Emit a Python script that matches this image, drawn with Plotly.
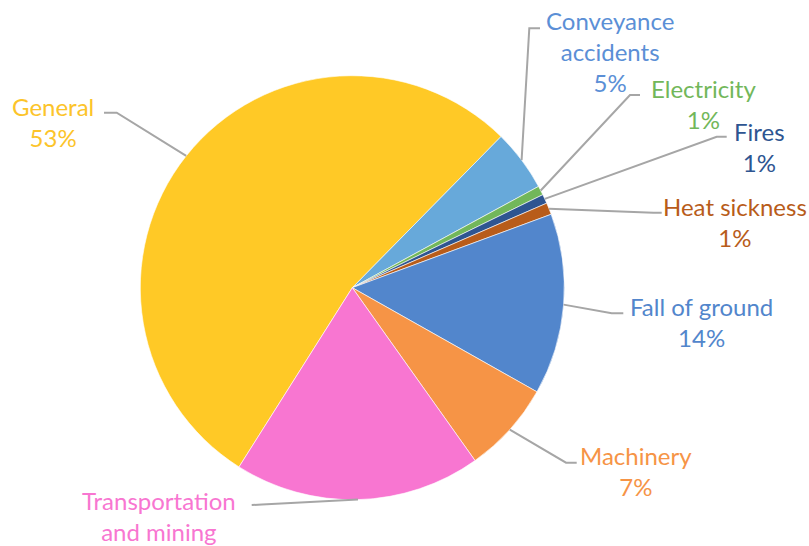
import math
import plotly.graph_objects as go

# ---- data ----
categories = ["General", "Conveyance accidents", "Electricity", "Fires",
              "Heat sickness", "Fall of ground", "Machinery", "Transportation and mining"]
label_lines = [["General"], ["Conveyance", "accidents"], ["Electricity"], ["Fires"],
               ["Heat sickness"], ["Fall of ground"], ["Machinery"], ["Transportation", "and mining"]]
values = [53.4, 4.7, 0.7, 0.7, 0.9, 13.8, 7.0, 18.8]
show_pct = [True, True, True, True, True, True, True, False]

# ---- style / layout ----
W, H = 809, 546
slice_colors = ["#FFC926", "#67A9DA", "#72B75A", "#2E5591", "#B85C1A", "#5286CC", "#F69446", "#F876D1"]
text_colors = ["#FCC42A", "#5B8FD6", "#72B75A", "#2E5591", "#B85C1A", "#5286CC", "#F69446", "#F876D1"]
rotation = 212.3
cx, cy, R = 352.3, 287.7, 212.0
# label centre (px) and leader elbow / end (px)
label_pos = [(53, 122.5), (609.5, 51), (703, 103.8), (759.5, 146.7),
             (735, 221.7), (701.5, 321.7), (636.3, 470.8), (159, 515.8)]
leader_elbow = [(116.7, 112.7), (529.3, 28.3), (630, 95), (716.7, 136.7),
                (653.3, 212.7), (611.7, 313.3), (566, 462.7), (262, 504.5)]
leader_end = [(104, 112.7), (540, 28.3), (640, 95), (726.7, 136.7),
              (661.7, 212.7), (623.3, 313.3), (576.7, 462.7), (251.7, 505)]
FONT = "Lato"
FS = 24

def px(x):
    return x / W

def py(y):
    return 1 - y / H

total = sum(values)
fig = go.Figure(go.Pie(
    labels=categories, values=values, sort=False, direction="clockwise",
    rotation=rotation, textinfo="none", hoverinfo="label+percent",
    marker=dict(colors=slice_colors, line=dict(color="white", width=0.6)),
    domain=dict(x=[px(cx - R), px(cx + R)], y=[py(cy + R), py(cy - R)]),
    showlegend=False,
))

# leader lines and labels, anchored at slice mid-angles derived from the data
angle = rotation
shapes, annotations = [], []
for i, v in enumerate(values):
    span = 360 * v / total
    mid = math.radians(angle + span / 2)
    angle += span
    ex, ey = cx + R * math.sin(mid), cy - R * math.cos(mid)
    (bx, by), (tx, ty) = leader_elbow[i], leader_end[i]
    shapes.append(dict(type="path", xref="paper", yref="paper",
                       path=f"M {px(ex)} {py(ey)} L {px(bx)} {py(by)} L {px(tx)} {py(ty)}",
                       line=dict(color="#A6A6A6", width=2)))
    lines = list(label_lines[i])
    if show_pct[i]:
        lines.append(f"{round(100 * v / total)}%")
    lx, ly = label_pos[i]
    annotations.append(dict(x=px(lx), y=py(ly), xref="paper", yref="paper",
                            text="<br>".join(lines), showarrow=False,
                            xanchor="center", yanchor="middle", align="center",
                            font=dict(family=FONT, size=FS, color=text_colors[i])))

fig.update_layout(width=W, height=H, margin=dict(l=0, r=0, t=0, b=0),
                  paper_bgcolor="white", plot_bgcolor="white",
                  shapes=shapes, annotations=annotations)
fig.write_html("out.html", config={"displayModeBar": False},
               post_script="document.body.style.margin='0';document.body.style.overflow='hidden';")
